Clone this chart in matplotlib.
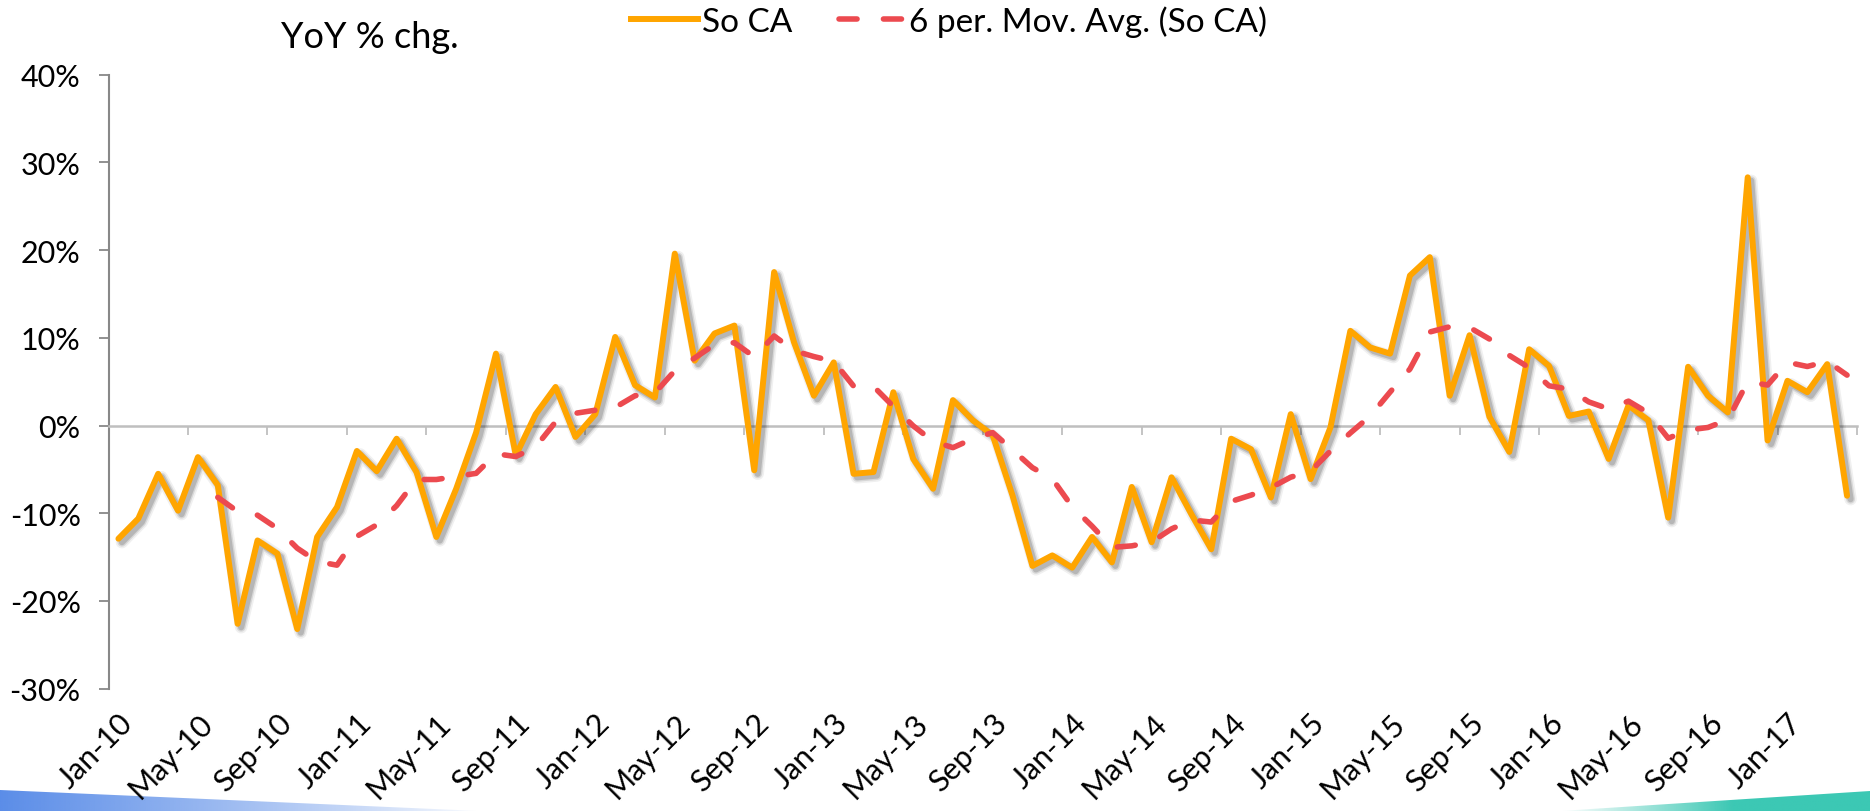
import numpy as np
import pandas as pd
import matplotlib
matplotlib.use("Agg")
import matplotlib.pyplot as plt
from matplotlib import patheffects as pe
from matplotlib.patches import Polygon
from matplotlib.lines import Line2D
from matplotlib.ticker import PercentFormatter
from matplotlib.colors import to_rgb

# ---------------- data ----------------
months = pd.date_range("2010-01-01", periods=88, freq="MS").strftime("%b-%y").tolist()

so_ca = [
    -12.9, -10.6, -5.5, -9.7, -3.6, -6.8, -22.6, -13.1, -14.6, -23.2, -12.7, -9.3,   # 2010
    -2.9, -5.2, -1.5, -5.3, -12.7, -7.2, -0.8, 8.2, -3.4, 1.3, 4.4, -1.3,            # 2011
    1.3, 10.1, 4.6, 3.2, 19.6, 7.4, 10.5, 11.4, -5.1, 17.5, 9.5, 3.4,                # 2012
    7.2, -5.5, -5.3, 3.8, -3.8, -7.2, 2.9, 0.6, -1.1, -8.0, -16.0, -14.8,            # 2013
    -16.2, -12.7, -15.6, -7.0, -13.3, -5.9, -10.1, -14.1, -1.5, -2.7, -8.2, 1.3,     # 2014
    -6.1, -0.2, 10.8, 8.9, 8.2, 17.1, 19.2, 3.4, 10.3, 1.0, -3.0, 8.7,               # 2015
    6.8, 1.1, 1.6, -3.8, 2.3, 0.6, -10.5, 6.7, 3.4, 1.5, 28.3, -1.7,                 # 2016
    5.1, 3.8, 7.0, -8.0,                                                             # 2017
]
ma_window = 6
label_every = 4

series_name = "So CA"
ma_name = f"{ma_window} per. Mov. Avg. ({series_name})"
title = "YoY % chg."
y_ticks = [-30, -20, -10, 0, 10, 20, 30, 40]

# ---------------- style ----------------
ORANGE = "#FFA500"
RED = "#EC4A4F"
plt.rcParams["font.family"] = ["Lato", "DejaVu Sans"]
plt.rcParams["axes.unicode_minus"] = False
plt.rcParams["lines.scale_dashes"] = False
DASH = (13, 19)

W, H = 1870, 812
fig = plt.figure(figsize=(W / 100, H / 100), dpi=100, facecolor="white")

# decorative swooshes at the bottom of the slide
deco = fig.add_axes([0, 0, 1, 1], zorder=-5)
deco.set_xlim(0, W)
deco.set_ylim(H, 0)
deco.axis("off")
g = np.linspace(0, 1, 256)[None, :]
blue = np.zeros((1, 256, 4))
blue[..., :3] = to_rgb("#5B8DE8")
blue[..., 3] = np.clip(1 - g, 0, 1) ** 0.8
im_b = deco.imshow(blue, extent=(0, 480, H, 785), aspect="auto")
pb = Polygon([(0, 791), (480, 812), (0, 812)], closed=True, facecolor="none", edgecolor="none")
deco.add_patch(pb)
im_b.set_clip_path(pb)
teal = np.zeros((1, 256, 4))
teal[..., :3] = to_rgb("#3CC8B4")
teal[..., 3] = np.clip(g * 1.8, 0, 1)
im_t = deco.imshow(teal, extent=(1560, W, H, 785), aspect="auto")
pt = Polygon([(1560, 812), (W, 792), (W, 812)], closed=True, facecolor="none", edgecolor="none")
deco.add_patch(pt)
im_t.set_clip_path(pt)

# main axes
left, right, top, bottom = 108.5, 1857.0, 75.7, 689.7
ax = fig.add_axes([left / W, 1 - bottom / H, (right - left) / W, (bottom - top) / H])
ax.patch.set_alpha(0)

x = np.arange(len(so_ca))
s = pd.Series(so_ca, dtype=float)
ma = s.rolling(ma_window).mean()

shadow = [
    pe.SimpleLineShadow(offset=(2.5, -2.5), shadow_color="black", alpha=0.06, rho=1, linewidth=9),
    pe.SimpleLineShadow(offset=(2.5, -2.5), shadow_color="black", alpha=0.10, rho=1, linewidth=6.5),
    pe.SimpleLineShadow(offset=(2.5, -2.5), shadow_color="black", alpha=0.15, rho=1, linewidth=4.5),
    pe.Normal(),
]
ax.plot(x, s, color=ORANGE, lw=4.3, solid_joinstyle="round", solid_capstyle="round",
        path_effects=shadow, zorder=3)
ax.plot(x, ma, color=RED, lw=4.0, dashes=DASH, dash_capstyle="round", zorder=4)

ax.set_xlim(-0.5, len(so_ca) - 0.5)
ax.set_ylim(y_ticks[0], y_ticks[-1])

# y axis
ax.set_yticks(y_ticks)
ax.yaxis.set_major_formatter(PercentFormatter(decimals=0))
ax.tick_params(axis="y", direction="out", length=7, width=1.3, color="#888888",
               pad=13, labelsize=22)
ax.spines["left"].set_color("#888888")
ax.spines["left"].set_linewidth(1.5)
ax.spines["top"].set_visible(False)
ax.spines["right"].set_visible(False)

# category axis line at 0 with tick marks between categories
ax.spines["bottom"].set_position(("data", 0))
ax.spines["bottom"].set_color("#BFBFBF")
ax.spines["bottom"].set_linewidth(1.8)
ax.set_xticks(np.arange(-0.5, len(so_ca), label_every))
ax.set_xticklabels([])
ax.tick_params(axis="x", direction="out", length=6.5, width=1.3, color="#BFBFBF")

# category labels at the bottom
sec = ax.secondary_xaxis("bottom")
sec.set_xticks(x[::label_every], labels=months[::label_every])
sec.tick_params(length=0, pad=14, labelsize=22)
sec.spines["bottom"].set_visible(False)
for lab in sec.get_xticklabels():
    lab.set_rotation(45)
    lab.set_ha("right")
    lab.set_va("top")
    lab.set_rotation_mode("anchor")

# title and legend
fig.text(310 / 1568, 1 - 37 / H, title, ha="center", va="center", fontsize=26)
handles = [
    Line2D([], [], color=ORANGE, lw=4.3),
    Line2D([], [], color=RED, lw=4.0, dashes=DASH, dash_capstyle="round"),
]
fig.legend(handles, [series_name, ma_name], loc="center", bbox_to_anchor=(796 / 1568, 1 - 22 / H),
           ncol=2, frameon=False, fontsize=24, handlelength=2.0, handletextpad=0.12,
           columnspacing=1.4, borderpad=0, borderaxespad=0)

fig.savefig("out.png", dpi=100, facecolor="white")
